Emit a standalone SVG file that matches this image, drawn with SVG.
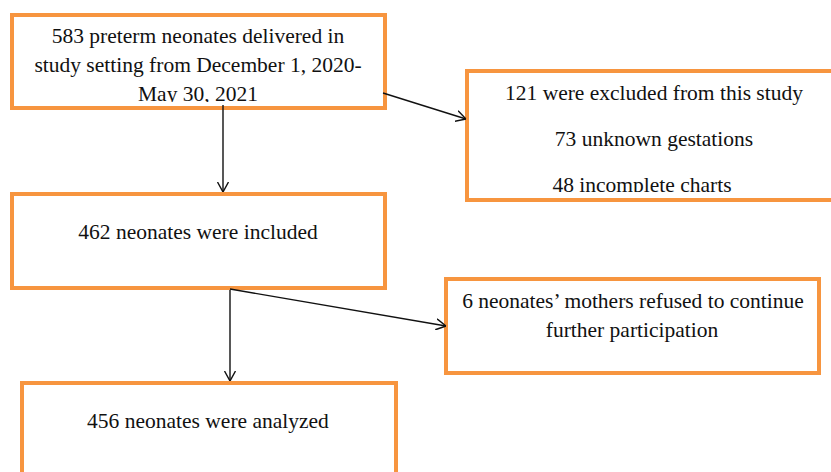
<svg xmlns="http://www.w3.org/2000/svg" width="831" height="472" viewBox="0 0 831 472">
<style>
.box{fill:#ffffff;stroke:#F7953F;stroke-width:4}
.t{font-family:"Liberation Serif","Times New Roman",serif;font-size:21.5px;fill:#111111;text-anchor:middle}
.c{fill:none;stroke:#111111;stroke-width:1.4}
</style>
<defs>
<marker id="ah" viewBox="0 0 10 12" refX="10" refY="6" markerWidth="10" markerHeight="12" markerUnits="userSpaceOnUse" orient="auto">
<path d="M0,0.5 L10,6 L0,11.5" fill="none" stroke="#111111" stroke-width="1.4"/>
</marker>
<clipPath id="clip1"><rect x="14" y="17" width="368" height="85"/></clipPath>
<clipPath id="clip2"><rect x="469" y="72" width="362" height="120"/></clipPath>
</defs>
<rect width="831" height="472" fill="#ffffff"/>
<g id="n1">
<rect class="box" x="12" y="15" width="373" height="93"/>
<g clip-path="url(#clip1)">
<text class="t" x="198" y="43">583 preterm neonates delivered in</text>
<text class="t" x="198" y="72">study setting from December 1, 2020-</text>
<text class="t" x="198" y="101">May 30, 2021</text>
</g>
</g>
<g id="n2">
<rect class="box" x="467" y="71" width="370" height="129"/>
<g clip-path="url(#clip2)">
<text class="t" x="654" y="100">121 were excluded from this study</text>
<text class="t" x="654" y="146">73 unknown gestations</text>
<text class="t" x="642" y="192">48 incomplete charts</text>
</g>
</g>
<g id="n3">
<rect class="box" x="12" y="194" width="373" height="94"/>
<text class="t" x="198" y="239">462 neonates were included</text>
</g>
<g id="n4">
<rect class="box" x="446" y="279" width="373" height="94"/>
<text class="t" x="633" y="308">6 neonates’ mothers refused to continue</text>
<text class="t" x="632" y="337">further participation</text>
</g>
<g id="n5">
<rect class="box" x="22" y="383" width="374" height="100"/>
<text class="t" x="208" y="428">456 neonates were analyzed</text>
</g>
<g id="connectors">
<line class="c" x1="223" y1="105" x2="223" y2="192" marker-end="url(#ah)"/>
<line class="c" x1="383" y1="93" x2="466" y2="119" marker-end="url(#ah)"/>
<line class="c" x1="230" y1="290" x2="230" y2="381" marker-end="url(#ah)"/>
<line class="c" x1="230" y1="289" x2="446" y2="326" marker-end="url(#ah)"/>
</g>
</svg>
